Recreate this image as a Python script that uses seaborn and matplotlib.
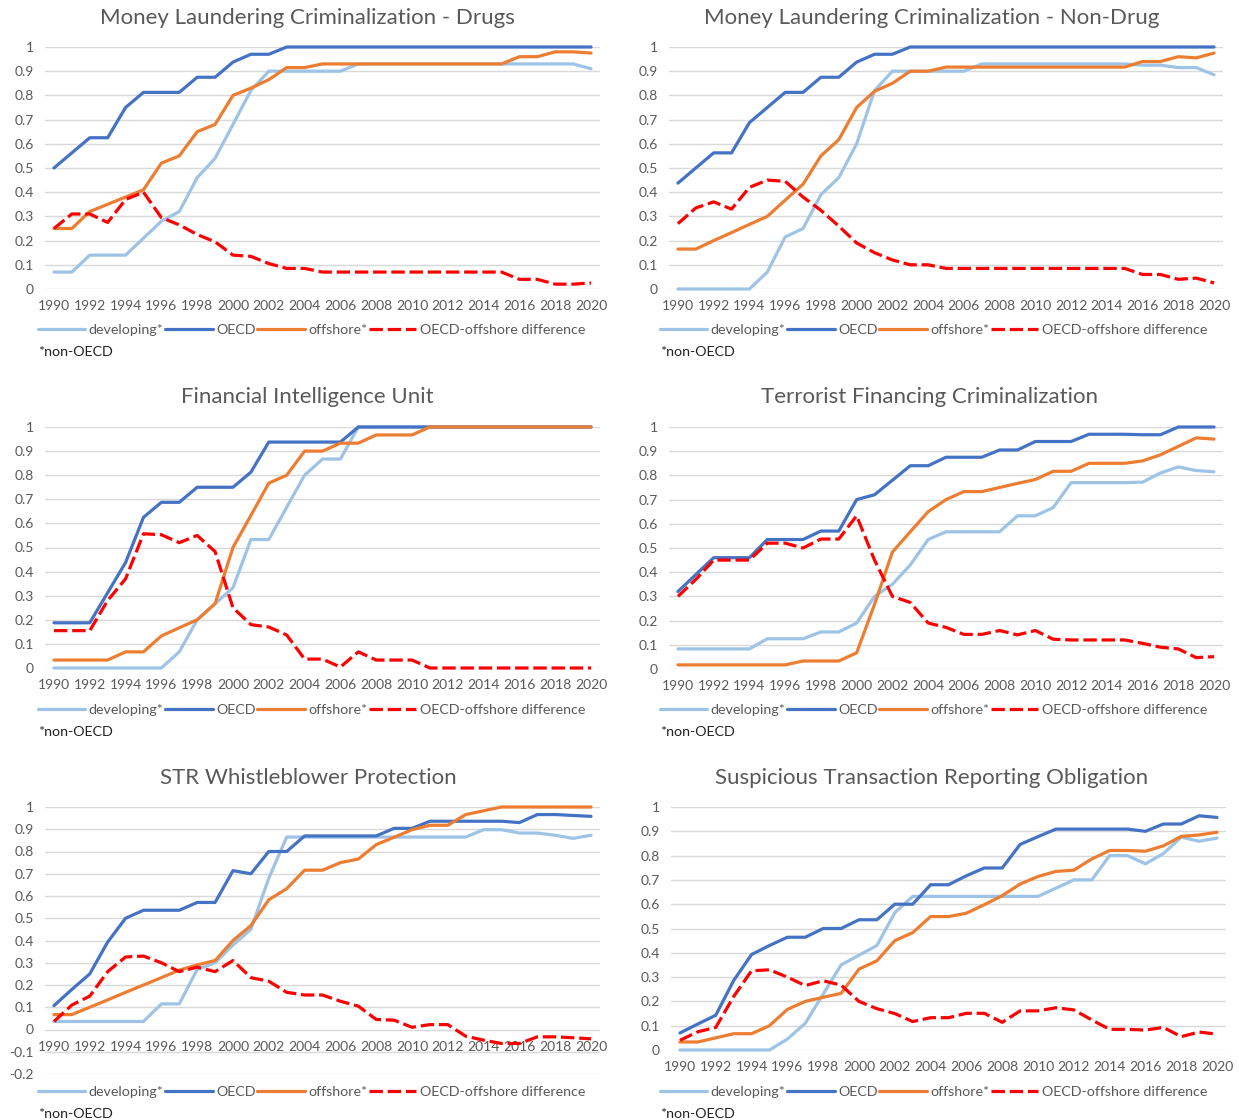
import matplotlib
matplotlib.use("Agg")
import matplotlib.pyplot as plt
import seaborn as sns
from matplotlib.ticker import FixedLocator, FuncFormatter

years = list(range(1990, 2021))
series_names = ["developing*", "OECD", "offshore*", "OECD-offshore difference"]

# Money Laundering Criminalization - Drugs
dev_drugs = [0.07, 0.07, 0.14, 0.14, 0.14, 0.21, 0.28, 0.32, 0.46, 0.54, 0.68, 0.82, 0.90, 0.90, 0.90, 0.90,
             0.90, 0.93, 0.93, 0.93, 0.93, 0.93, 0.93, 0.93, 0.93, 0.93, 0.93, 0.93, 0.93, 0.93, 0.91]
oecd_drugs = [0.5, 0.5625, 0.625, 0.625, 0.75, 0.8125, 0.8125, 0.8125, 0.875, 0.875, 0.9375, 0.97, 0.97, 1.0,
              1.0, 1.0, 1.0, 1.0, 1.0, 1.0, 1.0, 1.0, 1.0, 1.0, 1.0, 1.0, 1.0, 1.0, 1.0, 1.0, 1.0]
off_drugs = [0.25, 0.25, 0.32, 0.35, 0.38, 0.41, 0.52, 0.55, 0.65, 0.68, 0.80, 0.83, 0.865, 0.915, 0.915, 0.93,
             0.93, 0.93, 0.93, 0.93, 0.93, 0.93, 0.93, 0.93, 0.93, 0.93, 0.96, 0.96, 0.98, 0.98, 0.975]
diff_drugs = [0.25, 0.31, 0.31, 0.275, 0.37, 0.40, 0.295, 0.265, 0.225, 0.195, 0.14, 0.135, 0.105, 0.085, 0.085,
              0.07, 0.07, 0.07, 0.07, 0.07, 0.07, 0.07, 0.07, 0.07, 0.07, 0.07, 0.04, 0.04, 0.02, 0.02, 0.025]

# Money Laundering Criminalization - Non-Drug
dev_nondrug = [0, 0, 0, 0, 0, 0.07, 0.215, 0.25, 0.39, 0.46, 0.60, 0.82, 0.90, 0.90, 0.90, 0.90, 0.90,
               0.93, 0.93, 0.93, 0.93, 0.93, 0.93, 0.93, 0.93, 0.93, 0.925, 0.925, 0.915, 0.915, 0.885]
oecd_nondrug = [0.4375, 0.5, 0.5625, 0.5625, 0.6875, 0.75, 0.8125, 0.8125, 0.875, 0.875, 0.9375, 0.97, 0.97,
                1.0, 1.0, 1.0, 1.0, 1.0, 1.0, 1.0, 1.0, 1.0, 1.0, 1.0, 1.0, 1.0, 1.0, 1.0, 1.0, 1.0, 1.0]
off_nondrug = [0.165, 0.165, 0.20, 0.233, 0.267, 0.30, 0.367, 0.433, 0.55, 0.617, 0.75, 0.817, 0.85, 0.90, 0.90,
               0.917, 0.917, 0.917, 0.917, 0.917, 0.917, 0.917, 0.917, 0.917, 0.917, 0.917,
               0.94, 0.94, 0.96, 0.955, 0.975]
diff_nondrug = [0.27, 0.335, 0.36, 0.33, 0.42, 0.45, 0.445, 0.38, 0.325, 0.26, 0.19, 0.15, 0.12, 0.10, 0.10,
                0.085, 0.085, 0.085, 0.085, 0.085, 0.085, 0.085, 0.085, 0.085, 0.085, 0.085,
                0.06, 0.06, 0.04, 0.045, 0.025]

# Financial Intelligence Unit
dev_fiu = [0, 0, 0, 0, 0, 0, 0, 0.067, 0.20, 0.267, 0.333, 0.533, 0.533, 0.667, 0.80, 0.867, 0.867,
           1.0, 1.0, 1.0, 1.0, 1.0, 1.0, 1.0, 1.0, 1.0, 1.0, 1.0, 1.0, 1.0, 1.0]
oecd_fiu = [0.1875, 0.1875, 0.1875, 0.3125, 0.4375, 0.625, 0.6875, 0.6875, 0.75, 0.75, 0.75, 0.8125, 0.9375,
            0.9375, 0.9375, 0.9375, 0.9375, 1.0, 1.0, 1.0, 1.0, 1.0, 1.0, 1.0, 1.0, 1.0, 1.0, 1.0, 1.0, 1.0, 1.0]
off_fiu = [0.033, 0.033, 0.033, 0.033, 0.067, 0.067, 0.133, 0.167, 0.20, 0.267, 0.50, 0.633, 0.767, 0.80, 0.90,
           0.90, 0.933, 0.933, 0.967, 0.967, 0.967, 1.0, 1.0, 1.0, 1.0, 1.0, 1.0, 1.0, 1.0, 1.0, 1.0]
diff_fiu = [0.155, 0.155, 0.155, 0.28, 0.37, 0.557, 0.553, 0.52, 0.55, 0.483, 0.25, 0.18, 0.17, 0.137, 0.037,
            0.037, 0.004, 0.067, 0.033, 0.033, 0.033, 0, 0, 0, 0, 0, 0, 0, 0, 0, 0]

# Terrorist Financing Criminalization
dev_tf = [0.083, 0.083, 0.083, 0.083, 0.083, 0.125, 0.125, 0.125, 0.153, 0.153, 0.19, 0.30, 0.35, 0.43, 0.535,
          0.567, 0.567, 0.567, 0.567, 0.633, 0.633, 0.667, 0.77, 0.77, 0.77, 0.77, 0.772, 0.81, 0.835, 0.82, 0.815]
oecd_tf = [0.32, 0.39, 0.46, 0.46, 0.46, 0.535, 0.535, 0.535, 0.57, 0.57, 0.70, 0.72, 0.78, 0.84, 0.84,
           0.875, 0.875, 0.875, 0.905, 0.905, 0.94, 0.94, 0.94, 0.97, 0.97, 0.97, 0.968, 0.968, 1.0, 1.0, 1.0]
off_tf = [0.017, 0.017, 0.017, 0.017, 0.017, 0.017, 0.017, 0.033, 0.033, 0.033, 0.067, 0.267, 0.483, 0.567,
          0.65, 0.70, 0.733, 0.733, 0.75, 0.767, 0.783, 0.817, 0.817, 0.85, 0.85, 0.85, 0.86, 0.885, 0.92,
          0.955, 0.95]
diff_tf = [0.30, 0.37, 0.45, 0.45, 0.45, 0.52, 0.52, 0.50, 0.537, 0.537, 0.633, 0.45, 0.30, 0.275, 0.19,
           0.172, 0.143, 0.143, 0.159, 0.141, 0.159, 0.123, 0.12, 0.12, 0.12, 0.12, 0.106, 0.09, 0.083,
           0.047, 0.051]

# STR Whistleblower Protection
dev_wb = [0.036, 0.036, 0.036, 0.036, 0.036, 0.036, 0.115, 0.115, 0.27, 0.30, 0.38, 0.45, 0.68, 0.865, 0.865,
          0.865, 0.865, 0.865, 0.865, 0.865, 0.865, 0.865, 0.865, 0.865, 0.898, 0.898, 0.883, 0.883, 0.873,
          0.859, 0.873]
oecd_wb = [0.107, 0.18, 0.25, 0.393, 0.50, 0.536, 0.536, 0.536, 0.571, 0.571, 0.714, 0.70, 0.80, 0.80, 0.87,
           0.87, 0.87, 0.87, 0.87, 0.904, 0.904, 0.936, 0.936, 0.936, 0.936, 0.936, 0.93, 0.966, 0.966,
           0.962, 0.958]
off_wb = [0.067, 0.067, 0.10, 0.133, 0.167, 0.20, 0.233, 0.267, 0.29, 0.31, 0.40, 0.467, 0.583, 0.633, 0.716,
          0.716, 0.75, 0.766, 0.831, 0.864, 0.898, 0.918, 0.918, 0.966, 0.983, 1.0, 1.0, 1.0, 1.0, 1.0, 1.0]
diff_wb = [0.036, 0.11, 0.15, 0.26, 0.326, 0.33, 0.30, 0.26, 0.28, 0.26, 0.31, 0.233, 0.217, 0.167, 0.155,
           0.155, 0.127, 0.105, 0.045, 0.042, 0.01, 0.022, 0.022, -0.03, -0.048, -0.063, -0.063, -0.033,
           -0.033, -0.037, -0.042]

# Suspicious Transaction Reporting Obligation
dev_str = [0, 0, 0, 0, 0, 0, 0.045, 0.11, 0.23, 0.35, 0.39, 0.43, 0.565, 0.632, 0.632, 0.632, 0.632, 0.632,
           0.632, 0.632, 0.632, 0.666, 0.70, 0.70, 0.80, 0.80, 0.766, 0.808, 0.876, 0.859, 0.872]
oecd_str = [0.07, 0.107, 0.143, 0.286, 0.393, 0.43, 0.464, 0.464, 0.50, 0.50, 0.536, 0.536, 0.60, 0.60, 0.68,
            0.68, 0.717, 0.749, 0.749, 0.846, 0.878, 0.909, 0.909, 0.909, 0.909, 0.909, 0.90, 0.93, 0.93,
            0.964, 0.957]
off_str = [0.033, 0.033, 0.05, 0.067, 0.067, 0.10, 0.167, 0.20, 0.217, 0.233, 0.333, 0.367, 0.45, 0.483, 0.549,
           0.549, 0.563, 0.598, 0.635, 0.683, 0.714, 0.735, 0.74, 0.786, 0.821, 0.821, 0.818, 0.84, 0.879,
           0.885, 0.896]
diff_str = [0.04, 0.075, 0.093, 0.22, 0.326, 0.33, 0.30, 0.265, 0.285, 0.267, 0.20, 0.17, 0.15, 0.117, 0.133,
            0.133, 0.151, 0.151, 0.114, 0.161, 0.161, 0.174, 0.165, 0.124, 0.085, 0.085, 0.082, 0.093, 0.055,
            0.074, 0.065]

W, H = 1239, 1120
colors = ["#9DC3E6", "#4472C4", "#ED7D31", "#FF0000"]
text_gray = "#595959"

# title, data, plot box in px (left, top, right, bottom), ymin, title xy, legend/note left x, legend y
panels = [
    ("Money Laundering Criminalization - Drugs", (dev_drugs, oecd_drugs, off_drugs, diff_drugs),
     (45, 47, 600, 289), 0.0, (307, 18), 38, 330),
    ("Money Laundering Criminalization - Non-Drug", (dev_nondrug, oecd_nondrug, off_nondrug, diff_nondrug),
     (669, 47, 1223, 289), 0.0, (932, 18), 660, 330),
    ("Financial Intelligence Unit", (dev_fiu, oecd_fiu, off_fiu, diff_fiu),
     (45, 427, 600, 668), 0.0, (307, 397), 38, 710),
    ("Terrorist Financing Criminalization", (dev_tf, oecd_tf, off_tf, diff_tf),
     (669, 427, 1223, 669), 0.0, (929, 397), 660, 710),
    ("STR Whistleblower Protection", (dev_wb, oecd_wb, off_wb, diff_wb),
     (45, 807, 600, 1074), -0.2, (308, 778), 38, 1092),
    ("Suspicious Transaction Reporting Obligation", (dev_str, oecd_str, off_str, diff_str),
     (671, 807, 1226, 1050), 0.0, (932, 778), 660, 1092),
]

sns.set_theme(style="white")
plt.rcParams["font.family"] = ["Lato", "DejaVu Sans"]

fig = plt.figure(figsize=(W / 100, H / 100), dpi=100)

for title, data, box, ymin, tpos, lx, ly in panels:
    l, t, r, b = box
    ax = fig.add_axes([l / W, 1 - b / H, (r - l) / W, (b - t) / H])
    lines = []
    for vals, col in zip(data, colors):
        sns.lineplot(x=years, y=vals, ax=ax, color=col, linewidth=2.3, errorbar=None, clip_on=False)
        lines.append(ax.lines[-1])
    lines[-1].set_dashes((4.2, 1.5))
    lines[-1].set_dash_capstyle("butt")

    ax.set_xlim(1989.5, 2020.5)
    ax.set_ylim(ymin, 1)
    ticks = [round(ymin + 0.1 * i, 1) for i in range(int(round((1 - ymin) * 10)) + 1)]
    ax.yaxis.set_major_locator(FixedLocator(ticks))
    ax.yaxis.set_major_formatter(FuncFormatter(lambda v, _: f"{round(v, 1):g}"))
    ax.set_xticks(years[::2])
    ax.set_xticklabels([str(y) for y in years[::2]])
    ax.grid(axis="y", color="#D9D9D9", linewidth=1)
    ax.grid(axis="x", visible=False)
    for s in ax.spines.values():
        s.set_visible(False)
    ax.spines["bottom"].set_position(("data", 0))
    ax.tick_params(axis="both", length=0, labelsize=10, labelcolor=text_gray, pad=8)
    ax.set_xlabel("")
    ax.set_ylabel("")

    fig.text(tpos[0] / W, 1 - tpos[1] / H, title, ha="center", va="center",
             fontsize=16, color=text_gray)
    fig.legend(lines, series_names, loc="center left", bbox_to_anchor=(lx / W, 1 - ly / H),
               bbox_transform=fig.transFigure, ncol=4, frameon=False, fontsize=10.3,
               handlelength=3.3, handletextpad=0.25, columnspacing=0.12, borderaxespad=0,
               borderpad=0, labelcolor=text_gray)
    fig.text(lx / W, 1 - (ly + 22) / H, "*non-OECD", ha="left", va="center", fontsize=10.3, color="#222222")

fig.savefig("out.png", dpi=100)
